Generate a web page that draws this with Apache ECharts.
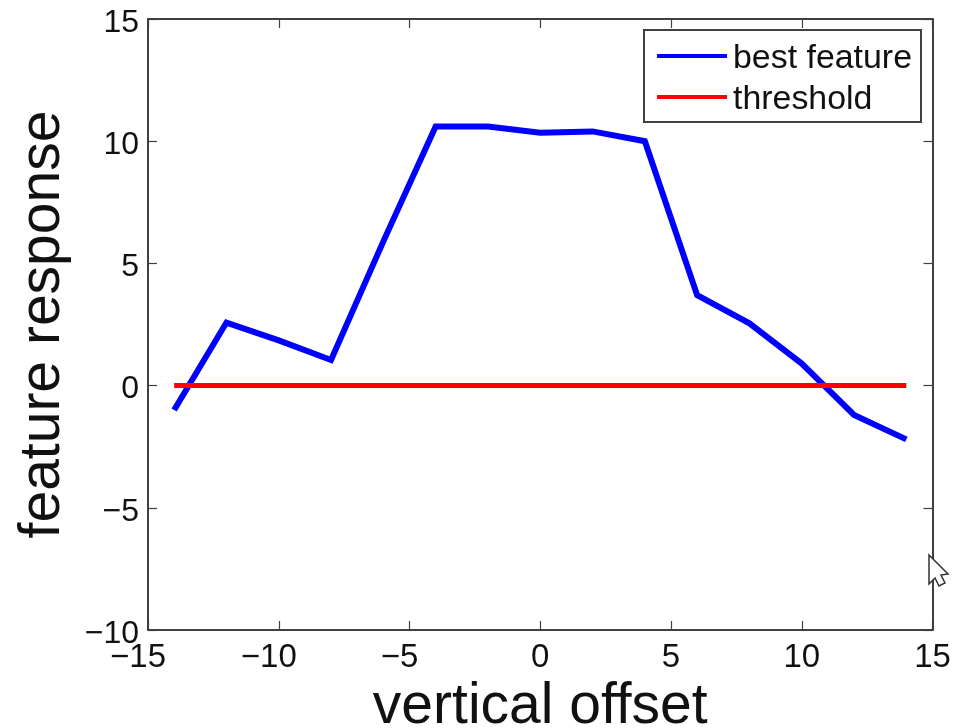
<!DOCTYPE html>
<html><head><meta charset="utf-8">
<style>html,body{margin:0;padding:0;background:#fff}#c{width:968px;height:728px;filter:blur(0.5px)}</style>
<script src="https://cdn.jsdelivr.net/npm/echarts@6/dist/echarts.min.js"></script>
</head><body><div id="c"></div>
<script>
const offsets = [-14,-12,-10,-8,-6,-4,-2,0,2,4,6,8,10,12,14];
const bestFeature = [-1.0,2.58,1.85,1.05,5.9,10.6,10.6,10.35,10.4,10.0,3.7,2.55,0.9,-1.2,-2.2];
const thresholdValues = [0,0,0,0,0,0,0,0,0,0,0,0,0,0,0];
const seriesNames = ['best feature','threshold'];
const xTitle = 'vertical offset';
const yTitle = 'feature response';
const FONT = '"Liberation Sans", Arial, sans-serif';
const fmt = v => String(v).replace('-', '\u2212');
const fmtX = v => v < 0 ? '{n|' + fmt(v) + '}' : fmt(v);
const fmtY = v => '{a|' + fmt(v) + '}';
const axisLine = {show:true, onZero:false, lineStyle:{color:'#404040', width:2}};
const tick = {show:true, inside:true, length:9, lineStyle:{color:'#404040', width:1.2}};
const chart = echarts.init(document.getElementById('c'), null, {renderer:'canvas'});
const pair = a => offsets.map((x,i)=>[x,a[i]]);
chart.setOption({
  animation:false,
  backgroundColor:'#fff',
  grid:{left:148, right:35.5, top:19, bottom:98, containLabel:false, outerBoundsMode:'none'},
  legend:{
    right:47, top:30, orient:'vertical',
    backgroundColor:'#fff', borderColor:'#404040', borderWidth:2, borderRadius:0,
    padding:[12,9,5,13], itemGap:7, itemWidth:70, itemHeight:30,
    lineStyle:{width:0},
    formatter:n=>'{t|'+n+'}',
    textStyle:{fontFamily:FONT, fontSize:33.9, color:'#111',
      rich:{t:{fontFamily:FONT, fontSize:33.9, color:'#111', padding:[6,0,0,1]}}},
    data:seriesNames.map(n=>({name:n, icon:'path://M0 13H70V17H0Z', itemStyle:{opacity:1}}))
  },
  xAxis:[
    {type:'value', min:-15, max:15, interval:5, position:'bottom',
     axisLine, axisTick:tick, splitLine:{show:false},
     axisLabel:{fontFamily:FONT, fontSize:33, color:'#111', margin:11, formatter:fmtX,
       rich:{n:{fontFamily:FONT, fontSize:33, color:'#111', padding:[0,20,0,0]}}},
     name:xTitle, nameLocation:'middle', nameGap:47,
     nameTextStyle:{fontFamily:FONT, fontSize:57, color:'#111'}},
    {type:'value', min:-15, max:15, interval:5, position:'top',
     axisLine, axisTick:tick, axisLabel:{show:false}, splitLine:{show:false}}
  ],
  yAxis:[
    {type:'value', min:-10, max:15, interval:5, position:'left',
     axisLine, axisTick:tick, splitLine:{show:false},
     axisLabel:{fontFamily:FONT, fontSize:32, color:'#111', margin:9, formatter:fmtY,
       rich:{a:{fontFamily:FONT, fontSize:32, color:'#111', padding:[8,0,0,0]}}},
     name:yTitle, nameLocation:'middle', nameGap:76, nameRotate:90,
     nameTextStyle:{fontFamily:FONT, fontSize:57, color:'#111'}},
    {type:'value', min:-10, max:15, interval:5, position:'right',
     axisLine, axisTick:tick, axisLabel:{show:false}, splitLine:{show:false}}
  ],
  series:[
    {name:seriesNames[0], type:'line', data:pair(bestFeature), showSymbol:false, symbol:'none',
     itemStyle:{color:'#0000ff'}, lineStyle:{color:'#0000ff', width:6, join:'miter'}, z:2},
    {name:seriesNames[1], type:'line', data:pair(thresholdValues), showSymbol:false, symbol:'none',
     itemStyle:{color:'#ff0000'}, lineStyle:{color:'#ff0000', width:5}, z:3}
  ],
  graphic:[{
    type:'polygon', z:100, silent:true,
    shape:{points:[[929,555],[929,584],[935,578],[939,586],[945,583],[941,575],[948,574]]},
    style:{fill:'#fff', stroke:'#333', lineWidth:1.5}
  }]
});
</script></body></html>
